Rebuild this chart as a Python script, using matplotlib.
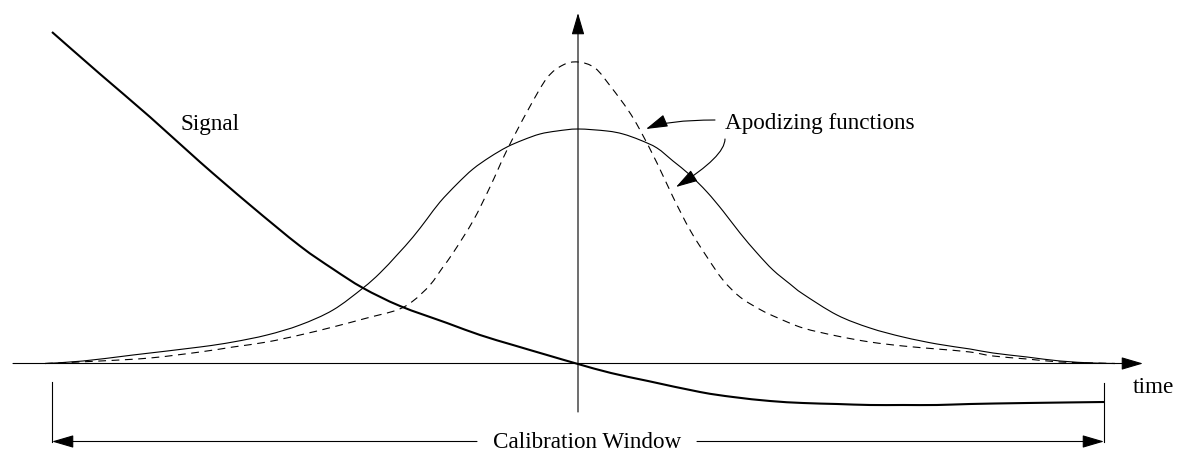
import matplotlib
matplotlib.use("Agg")
import matplotlib.pyplot as plt
import numpy as np
from matplotlib.path import Path
from matplotlib.patches import PathPatch

# ---- data (diagram units: x to the right, y downward as in the picture) ----
signal_x = [52, 100, 150, 200, 250, 300, 333, 363, 400, 447, 480, 513, 547, 578,
            611, 648, 700, 733, 770, 803, 837, 870, 903, 937, 970, 1027, 1104]
signal_y = [32, 74, 117, 162, 205, 246, 269, 288, 306, 323, 335, 345, 355, 364,
            373, 381, 392, 397, 401, 403, 404, 405, 405, 405, 404, 403, 402]

apod_wide_x = [45, 83, 133, 200, 233, 267, 300, 333, 363, 380, 397, 413, 427, 440,
               457, 473, 490, 507, 523, 540, 557, 578, 607, 623, 640, 657, 673,
               690, 707, 723, 740, 757, 773, 790, 803, 837, 870, 903, 937, 970,
               993, 1027, 1060, 1093, 1115]
apod_wide_y = [363.5, 361, 355, 347, 342, 335, 325, 310, 288, 273, 255, 237, 219, 202,
               184, 169, 157, 147, 140, 134, 131, 129, 131, 134, 140, 148, 161,
               175, 192, 211, 233, 253, 270, 284, 294, 315, 328, 337, 344, 349,
               353, 357, 361, 363, 363.5]

apod_narrow_x = [45, 100, 150, 200, 233, 267, 300, 333, 367, 397, 413, 430, 443, 453,
                 473, 490, 507, 528, 547, 563, 578, 595, 611, 628, 640, 657, 673,
                 690, 707, 723, 740, 761, 778, 803, 837, 870, 903, 937, 970, 993,
                 1027, 1060, 1093, 1115]
apod_narrow_y = [363.5, 361, 358, 352, 347, 342, 335, 327, 318, 310, 301, 285, 267, 253,
                 221, 187, 150, 110, 78, 65, 62, 68, 87, 110, 130, 163, 197,
                 230, 257, 280, 297, 310, 318, 328, 336, 342, 346, 349, 352, 356,
                 359, 362, 363, 363.5]

labels = {"signal": "Signal", "apod": "Apodizing functions", "time": "time",
          "window": "Calibration Window"}


def smooth_path(xs, ys):
    """Catmull-Rom curve through the read points, drawn as cubic Bezier segments."""
    p = np.column_stack([xs, ys]).astype(float)
    ext = np.vstack([p[0], p, p[-1]])
    verts = [p[0]]
    codes = [Path.MOVETO]
    for i in range(1, len(ext) - 2):
        p0, p1, p2, p3 = ext[i - 1], ext[i], ext[i + 1], ext[i + 2]
        c1 = p1 + (p2 - p0) / 6.0
        c2 = p2 - (p3 - p1) / 6.0
        verts += [c1, c2, p2]
        codes += [Path.CURVE4] * 3
    return Path(verts, codes)


# ---- figure ----
fig = plt.figure(figsize=(11.77, 4.51), dpi=100)
ax = fig.add_axes([0, 0, 1, 1])
ax.set_xlim(0, 1177)
ax.set_ylim(451, 0)
ax.axis("off")

FONT = "Liberation Serif"
FS = 16.7
thin = 0.8

arrow_kw = dict(arrowstyle="-|>,head_length=0.75,head_width=0.22", lw=thin,
                color="black", shrinkA=0, shrinkB=0, mutation_scale=18)

# axes with arrows
ax.annotate("", xy=(1143, 363.5), xytext=(13, 363.5), arrowprops=arrow_kw)
ax.annotate("", xy=(578, 13), xytext=(578, 412), arrowprops=arrow_kw)

# curves
ax.add_patch(PathPatch(smooth_path(apod_wide_x, apod_wide_y), fill=False,
                       edgecolor="black", lw=thin))
ax.add_patch(PathPatch(smooth_path(apod_narrow_x, apod_narrow_y), fill=False,
                       edgecolor="black", lw=thin, linestyle=(0, (7, 5))))
ax.add_patch(PathPatch(smooth_path(signal_x, signal_y), fill=False,
                       edgecolor="black", lw=1.5, capstyle="butt"))

# labels
ax.text(180, 130, labels["signal"], fontfamily=FONT, fontsize=FS,
        ha="left", va="baseline")
ax.text(725, 129, labels["apod"], fontfamily=FONT, fontsize=FS,
        ha="left", va="baseline")
ax.text(1133, 393, labels["time"], fontfamily=FONT, fontsize=FS,
        ha="left", va="baseline")

# annotation arrows
ax.annotate("", xy=(646, 129), xytext=(715, 120),
            arrowprops=dict(arrow_kw, connectionstyle="angle3,angleA=180,angleB=23"))
ax.annotate("", xy=(676, 187), xytext=(725, 139),
            arrowprops=dict(arrow_kw, connectionstyle="angle3,angleA=270,angleB=32"))

# calibration window
ax.plot([52, 52], [382, 442], color="black", lw=thin)
ax.plot([1104, 1104], [383, 442], color="black", lw=thin)
ax.annotate("", xy=(52, 441.5), xytext=(477, 441.5), arrowprops=arrow_kw)
ax.annotate("", xy=(1104, 441.5), xytext=(697, 441.5), arrowprops=arrow_kw)
ax.text(587, 442, labels["window"], fontfamily=FONT, fontsize=FS,
        ha="center", va="center")

fig.savefig("out.png", dpi=100)
